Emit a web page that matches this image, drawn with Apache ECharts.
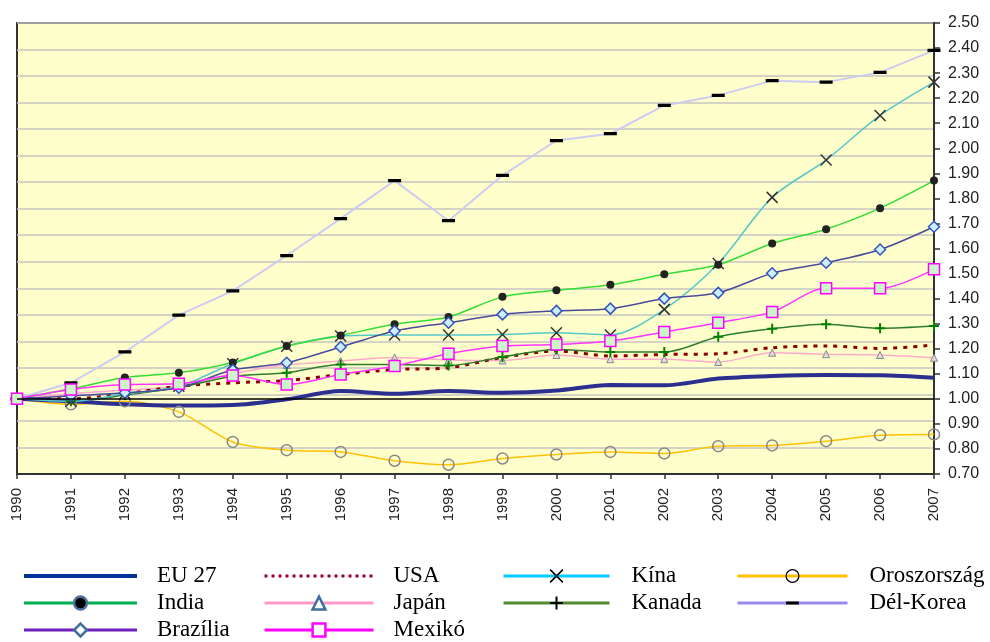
<!DOCTYPE html>
<html><head><meta charset="utf-8">
<script src="https://cdn.jsdelivr.net/npm/echarts@6/dist/echarts.min.js"></script>
<style>html,body{margin:0;padding:0;background:#fff}#c{width:990px;height:642px}</style>
</head><body><div id="c"></div>
<script>
const years = ['1990','1991','1992','1993','1994','1995','1996','1997','1998','1999','2000','2001','2002','2003','2004','2005','2006','2007'];
const yMin = 0.7, yMax = 2.5, yStep = 0.1;

const euValues     = [1.00, 0.99, 0.978, 0.973, 0.975, 0.998, 1.031, 1.020, 1.031, 1.024, 1.033, 1.055, 1.054, 1.081, 1.091, 1.095, 1.094, 1.084];
const usaValues    = [1.00, 1.00, 1.02, 1.05, 1.064, 1.073, 1.097, 1.117, 1.124, 1.165, 1.191, 1.171, 1.177, 1.18, 1.204, 1.211, 1.201, 1.215];
const chinaValues  = [1.00, 0.99, 1.02, 1.05, 1.14, 1.21, 1.251, 1.255, 1.255, 1.257, 1.264, 1.255, 1.357, 1.54, 1.804, 1.953, 2.131, 2.264];
const russiaValues = [1.00, 0.978, 0.99, 0.948, 0.828, 0.795, 0.788, 0.753, 0.737, 0.762, 0.778, 0.788, 0.782, 0.811, 0.814, 0.831, 0.855, 0.858];
const indiaValues  = [1.00, 1.04, 1.085, 1.104, 1.145, 1.211, 1.253, 1.298, 1.327, 1.407, 1.433, 1.455, 1.497, 1.535, 1.62, 1.677, 1.761, 1.871];
const japanValues  = [1.00, 1.02, 1.035, 1.05, 1.10, 1.135, 1.151, 1.165, 1.155, 1.153, 1.175, 1.158, 1.158, 1.147, 1.184, 1.178, 1.175, 1.164];
const canadaValues = [1.00, 0.99, 1.015, 1.045, 1.09, 1.104, 1.137, 1.137, 1.133, 1.167, 1.197, 1.187, 1.187, 1.248, 1.28, 1.298, 1.282, 1.291];
const koreaValues  = [1.00, 1.064, 1.187, 1.334, 1.431, 1.572, 1.719, 1.871, 1.711, 1.892, 2.031, 2.058, 2.171, 2.211, 2.270, 2.264, 2.303, 2.391];
const brazilValues = [1.00, 1.012, 1.024, 1.044, 1.115, 1.144, 1.207, 1.271, 1.304, 1.337, 1.351, 1.36, 1.40, 1.423, 1.501, 1.543, 1.596, 1.687];
const mexicoValues = [1.00, 1.037, 1.057, 1.06, 1.093, 1.057, 1.097, 1.131, 1.18, 1.211, 1.217, 1.231, 1.267, 1.304, 1.347, 1.441, 1.441, 1.517];

const legendCol1 = ['EU 27', 'India', 'Brazília'];
const legendCol2 = ['USA', 'Japán', 'Mexikó'];
const legendCol3 = ['Kína', 'Kanada'];
const legendCol4 = ['Oroszország', 'Dél-Korea'];

const X_PATH = 'path://M0,0L10,10M10,0L0,10';
const PLUS_PATH = 'path://M5,0L5,10M0,5L10,5';
const BAR_PATH = 'path://M0,0L0.01,0L0.01,0.01ZM0,4.5L12,4.5L12,7.5L0,7.5ZM12,12L12.01,12L12.01,11.99Z';

const chart = echarts.init(document.getElementById('c'), null, {renderer: 'canvas'});

function legendStyles(name) {
  const m = {
    'EU 27':      {line: {color: '#003399', width: 4, type: 'solid'}, item: {opacity: 0}},
    'USA':        {line: {color: '#990033', width: 3, type: [3, 4]}, item: {opacity: 0}},
    'India':      {line: {color: '#00B050', width: 3, type: 'solid'}, item: {color: '#000', borderColor: '#4F6FA0', borderWidth: 2.5}},
    'Japán':      {line: {color: '#FF99CC', width: 3, type: 'solid'}, item: {color: '#fff', borderColor: '#3F6F9F', borderWidth: 2.5}},
    'Brazília':   {line: {color: '#7020C0', width: 3, type: 'solid'}, item: {color: '#fff', borderColor: '#3F6F9F', borderWidth: 2.5}},
    'Mexikó':     {line: {color: '#FF00FF', width: 3, type: 'solid'}, item: {color: '#fff', borderColor: '#FF00FF', borderWidth: 2.5}},
    'Kína':       {line: {color: '#00CCFF', width: 3, type: 'solid'}, item: {color: 'rgba(0,0,0,0)', borderColor: '#000', borderWidth: 1.5}},
    'Kanada':     {line: {color: '#4F8A2F', width: 3, type: 'solid'}, item: {color: 'rgba(0,0,0,0)', borderColor: '#000', borderWidth: 2}},
    'Oroszország':{line: {color: '#FFC000', width: 3, type: 'solid'}, item: {color: 'rgba(255,255,255,0)', borderColor: '#000', borderWidth: 1.2}},
    'Dél-Korea':  {line: {color: '#9988EE', width: 3, type: 'solid'}, item: {color: '#000', borderColor: '#000', borderWidth: 0}}
  };
  return {name: name, lineStyle: m[name].line, itemStyle: m[name].item};
}

function makeLegend(names, left, itemWidth, pad) {
  return {
    orient: 'vertical', left: left, top: 564, padding: 0, itemGap: 3,
    itemWidth: itemWidth, itemHeight: 16, selectedMode: false,
    textStyle: {fontFamily: 'Liberation Serif', fontSize: 23, color: '#000', lineHeight: 24, padding: [0, 0, 0, pad]},
    data: names.map(legendStyles)
  };
}

function lineSeries(name, data, opts) {
  return Object.assign({
    name: name, type: 'line', data: data, smooth: 0.3, yAxisIndex: 0,
    symbol: 'none', symbolSize: 10, showSymbol: true
  }, opts);
}

const series = [
  lineSeries('Dél-Korea', koreaValues, {smooth: false,
    lineStyle: {color: '#CCCCF2', width: 2},
    symbol: BAR_PATH, symbolSize: 13, itemStyle: {color: '#000', borderWidth: 0}}),
  lineSeries('Oroszország', russiaValues, {
    lineStyle: {color: '#FFC000', width: 1.5},
    symbol: 'circle', symbolSize: 11, itemStyle: {color: 'rgba(0,0,0,0)', borderColor: '#888', borderWidth: 1.5}}),
  lineSeries('Japán', japanValues, {
    lineStyle: {color: '#FFAACC', width: 1.5},
    symbol: 'triangle', symbolSize: 7, itemStyle: {color: '#DDDDDD', borderColor: '#888', borderWidth: 1}}),
  lineSeries('USA', usaValues, {
    lineStyle: {color: '#8B0000', width: 3, type: [4, 6]}}),
  lineSeries('Kanada', canadaValues, {
    lineStyle: {color: '#2E7D2E', width: 1.5},
    symbol: PLUS_PATH, symbolSize: 10, itemStyle: {color: 'rgba(0,0,0,0)', borderColor: '#008000', borderWidth: 2}}),
  lineSeries('EU 27', euValues, {
    lineStyle: {color: '#2B2F8F', width: 4},
    markLine: {silent: true, symbol: 'none', label: {show: false},
      lineStyle: {color: '#000', width: 1.5, type: 'solid'}, data: [{yAxis: 1}]}}),
  lineSeries('Kína', chinaValues, {
    lineStyle: {color: '#55C8C8', width: 1.5},
    symbol: X_PATH, symbolSize: 11, itemStyle: {color: 'rgba(0,0,0,0)', borderColor: '#333', borderWidth: 1.5}}),
  lineSeries('India', indiaValues, {
    lineStyle: {color: '#33DD33', width: 1.5},
    symbol: 'circle', symbolSize: 8, itemStyle: {color: '#222', borderColor: '#222', borderWidth: 0}}),
  lineSeries('Brazília', brazilValues, {
    lineStyle: {color: '#4A4A9C', width: 1.5},
    symbol: 'diamond', symbolSize: 11, itemStyle: {color: '#CCEEFF', borderColor: '#3355BB', borderWidth: 1.5}}),
  lineSeries('Mexikó', mexicoValues, {
    lineStyle: {color: '#FF33FF', width: 1.5},
    symbol: 'rect', symbolSize: 11, itemStyle: {color: '#CCF5CC', borderColor: '#FF00FF', borderWidth: 1.5}})
];

chart.setOption({
  animation: false,
  backgroundColor: '#fff',
  grid: {left: 17, right: 56, top: 23, bottom: 168, show: true,
    backgroundColor: '#FFFFCC', borderColor: '#333', borderWidth: 2},
  legend: [
    makeLegend(legendCol1, 22, 113, 15),
    makeLegend(legendCol2, 263, 109, 15),
    makeLegend(legendCol3, 502, 106, 17),
    makeLegend(legendCol4, 736, 110, 17)
  ],
  xAxis: {
    type: 'category', data: years, boundaryGap: false,
    axisLine: {show: true, lineStyle: {color: '#333', width: 2}},
    axisTick: {show: true, length: 5, lineStyle: {color: '#333', width: 1.5}},
    axisLabel: {rotate: 90, margin: 14, fontFamily: 'Liberation Sans', fontSize: 15, color: '#222', interval: 0},
    splitLine: {show: false}
  },
  yAxis: [
    {
      type: 'value', position: 'right', min: yMin, max: yMax, interval: yStep,
      axisLine: {show: true, lineStyle: {color: '#333', width: 2}},
      axisTick: {show: true, length: 6, lineStyle: {color: '#333', width: 1.5}},
      axisLabel: {margin: 14, fontFamily: 'Liberation Sans', fontSize: 16, color: '#222',
        formatter: v => v.toFixed(2)},
      splitLine: {show: false}
    },
    {
      type: 'value', position: 'left', min: 0, max: 17, interval: 1,
      axisLine: {show: false}, axisTick: {show: false}, axisLabel: {show: false},
      splitLine: {show: true, lineStyle: {color: '#C4C4C4', width: 1.5}}
    }
  ],
  series: series
});
</script>
</body></html>
